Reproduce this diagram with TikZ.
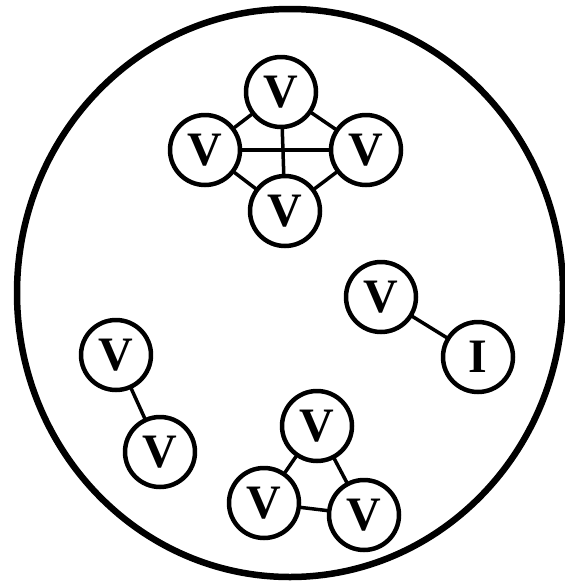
\documentclass[tikz,border=0pt]{standalone}
\usepackage{fontspec}
\setmainfont{Liberation Serif}
\begin{document}
\begin{tikzpicture}[x=1pt,y=-1pt,line cap=round,line join=round,
  atom/.style={circle,draw,line width=4.5pt,minimum size=70pt,inner sep=0pt,
    font=\fontsize{48}{48}\selectfont\bfseries},
  bond/.style={line width=3.5pt}]
  \useasboundingbox (0,0) rectangle (565,584);
  \draw[line width=6.5pt] (290,293) ellipse [x radius=273pt, y radius=284pt];
  % group of four
  \node[atom] (vt) at (281,92) {V};
  \node[atom] (vl) at (205,150) {V};
  \node[atom] (vr) at (366,150) {V};
  \node[atom] (vb) at (285,211) {V};
  \foreach \a/\b in {vl/vt,vt/vr,vr/vb,vb/vl,vl/vr,vt/vb}
    \draw[bond] (\a) -- (\b);
  % V--I pair
  \node[atom] (vi) at (381,297) {V};
  \node[atom] (ii) at (478,357) {I};
  \draw[bond] (vi) -- (ii);
  % V--V pair
  \node[atom] (vp) at (116,355) {V};
  \node[atom] (vq) at (160,452) {V};
  \draw[bond] (vp) -- (vq);
  % group of three
  \node[atom] (tt) at (317,426) {V};
  \node[atom] (tl) at (264,503) {V};
  \node[atom] (tr) at (364,515) {V};
  \foreach \a/\b in {tt/tl,tl/tr,tr/tt}
    \draw[bond] (\a) -- (\b);
\end{tikzpicture}
\end{document}
